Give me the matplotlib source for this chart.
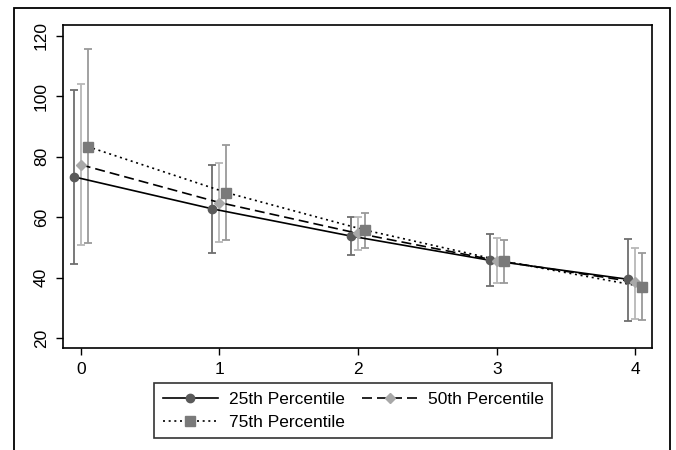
import matplotlib
matplotlib.use("Agg")
import matplotlib.pyplot as plt
from matplotlib.lines import Line2D
from matplotlib.patches import Rectangle
import numpy as np

plt.rcParams["font.family"] = ["Liberation Sans", "DejaVu Sans"]

# data
x = [0, 1, 2, 3, 4]
labels = ["25th Percentile", "50th Percentile", "75th Percentile"]
p25 = [73.3, 62.7, 53.7, 45.7, 39.4]
p25_lo = [44.6, 48.1, 47.4, 37.2, 25.6]
p25_hi = [102.0, 77.3, 59.9, 54.4, 52.8]
p50 = [77.3, 64.8, 54.6, 45.6, 38.5]
p50_lo = [50.6, 51.7, 49.0, 38.2, 26.4]
p50_hi = [104.1, 78.0, 60.0, 53.1, 49.8]
p75 = [83.3, 68.1, 55.7, 45.4, 37.0]
p75_lo = [51.4, 52.5, 49.7, 38.3, 25.8]
p75_hi = [115.4, 83.7, 61.3, 52.4, 48.2]

series = [
    (p25, p25_lo, p25_hi, -0.05, "o", "#5a5a5a", "#6e6e6e", "-", 6.0),
    (p50, p50_lo, p50_hi, 0.0, "D", "#a8a8a8", "#b8b8b8", (0, (6, 3)), 5.5),
    (p75, p75_lo, p75_hi, 0.05, "s", "#7a7a7a", "#9a9a9a", (0, (1.2, 2.2)), 6.5),
]

fig = plt.figure(figsize=(6.76, 4.5), dpi=100)
ax = fig.add_axes([63 / 676, 1 - 348 / 450, 589 / 676, 323 / 450])

# outer frame around the whole graph
fig.patches.append(Rectangle((14 / 676, -0.1), 656 / 676, 1.1 - 8 / 450,
                             transform=fig.transFigure, fill=False,
                             edgecolor="black", linewidth=1.3))

handles = []
for (vals, lo, hi, off, mk, mcol, ecol, ls, ms), lab in zip(series, labels):
    xs = np.array(x) + off
    vals = np.array(vals)
    yerr = [vals - np.array(lo), np.array(hi) - vals]
    ax.errorbar(xs, vals, yerr=yerr, fmt="none", ecolor=ecol, elinewidth=1.3,
                capsize=3, capthick=1.3, zorder=2)
    ax.plot(xs, vals, color="black", linestyle=ls, linewidth=1.2, zorder=3)
    ax.plot(xs, vals, linestyle="none", marker=mk, markersize=ms,
            markerfacecolor=mcol, markeredgecolor=mcol, zorder=4)
    handles.append(Line2D([], [], color="black", linestyle=ls, linewidth=1.2,
                          marker=mk, markersize=ms, markerfacecolor=mcol,
                          markeredgecolor=mcol))

ax.set_xlim(-0.128, 4.12)
ax.set_ylim(16.7, 123.5)
ax.set_xticks(x)
ax.set_yticks([20, 40, 60, 80, 100, 120])
ax.tick_params(labelsize=12.5, length=5, width=1, direction="out", pad=5)
for lbl in ax.get_yticklabels():
    lbl.set_rotation(90)
    lbl.set_va("center")
for sp in ax.spines.values():
    sp.set_linewidth(1.2)

# legend fills column-wise, so order handles to read row-wise
order = [0, 2, 1]
leg = fig.legend([handles[i] for i in order], [labels[i] for i in order],
                 loc="upper left", bbox_to_anchor=(154 / 676, 1 - 383 / 450),
                 borderaxespad=0, ncol=2, fontsize=12.5, handlelength=3.2,
                 handletextpad=0.6, columnspacing=1.0, borderpad=0.5,
                 labelspacing=0.45, frameon=True, fancybox=False,
                 edgecolor="black")
leg.get_frame().set_linewidth(1.2)

fig.savefig("out.png", dpi=100)
plt.close(fig)
